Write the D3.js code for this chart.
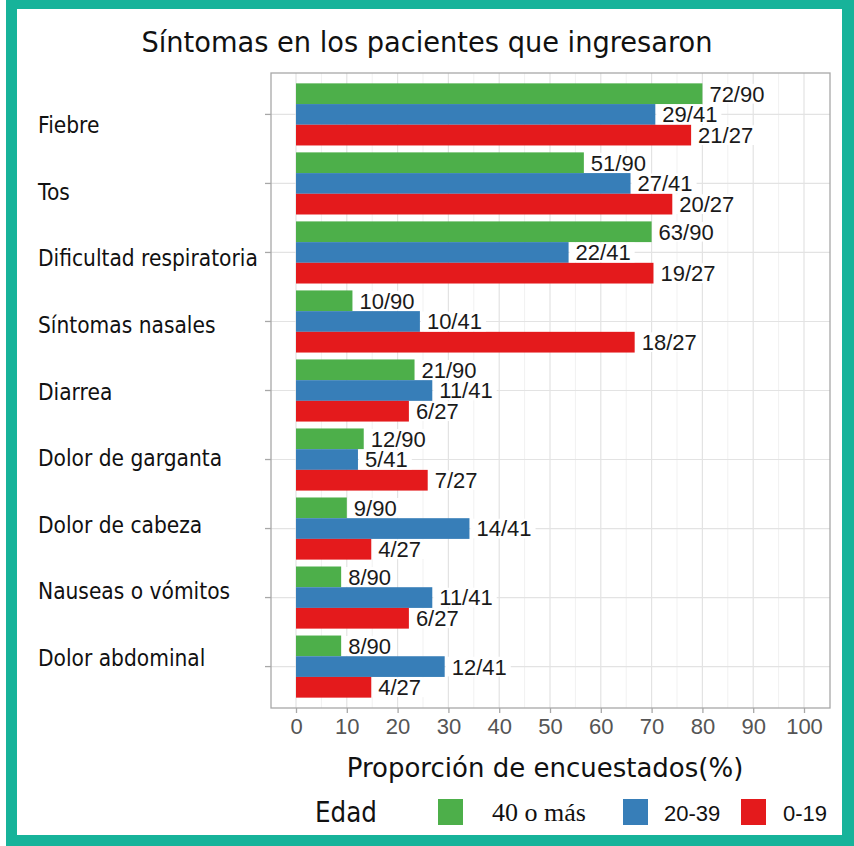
<!DOCTYPE html>
<html>
<head>
<meta charset="utf-8">
<script src="https://cdn.jsdelivr.net/npm/d3@7"></script>
<style>
  body { margin: 0; background: #fff; }
</style>
</head>
<body>
<svg id="chart"></svg>
<script>
const symptoms = ["Fiebre", "Tos", "Dificultad respiratoria", "Síntomas nasales", "Diarrea",
    "Dolor de garganta", "Dolor de cabeza", "Nauseas o vómitos", "Dolor abdominal"];
const groups = ["40 o más", "20-39", "0-19"];
const groupTotals = [90, 41, 27];
const counts40 = [72, 51, 63, 10, 21, 12, 9, 8, 8];
const counts2039 = [29, 27, 22, 10, 11, 5, 14, 11, 12];
const counts019 = [21, 20, 19, 18, 6, 7, 4, 6, 4];
const xTicks = [0, 10, 20, 30, 40, 50, 60, 70, 80, 90, 100];
const groupColors = ["#4DAF4A", "#377EB8", "#E41A1C"];

const width = 854;
const height = 846;

const svg = d3.select("#chart")
    .attr("width", width)
    .attr("height", height);

// teal frame
svg.append("rect").attr("x", 6).attr("y", 0).attr("width", width - 6).attr("height", height).attr("fill", "#17b39a");
svg.append("rect").attr("x", 17).attr("y", 9).attr("width", 825).attr("height", 826).attr("fill", "#fff");

// panel
const panel = {left: 271, right: 830, top: 73, bottom: 708};

const x = d3.scaleLinear().domain([0, 100]).range([296, 804]);
const y = d3.scaleBand().domain(symptoms).range([panel.top, panel.bottom])
    .paddingInner(0.1).paddingOuter(0.15);
const ySub = d3.scaleBand().domain(groups).range([0, y.bandwidth()]);
const labelY = d3.scalePoint().domain(symptoms).range([124.5, 657.5]);
const color = d3.scaleOrdinal().domain(groups).range(groupColors);

const counts = [counts40, counts2039, counts019];
const rows = [];
symptoms.forEach((s, i) => {
    groups.forEach((g, j) => {
        rows.push({
            symptom: s,
            group: g,
            count: counts[j][i],
            total: groupTotals[j],
            pct: counts[j][i] / groupTotals[j] * 100
        });
    });
});

// grid
const minor = d3.range(5, 100, 10);
svg.append("g").selectAll("line")
    .data(minor)
    .enter()
    .append("line")
    .attr("x1", d => x(d)).attr("x2", d => x(d))
    .attr("y1", panel.top).attr("y2", panel.bottom)
    .attr("stroke", "#f1f1f1").attr("stroke-width", 1);

svg.append("g").selectAll("line")
    .data(xTicks)
    .enter()
    .append("line")
    .attr("x1", d => x(d)).attr("x2", d => x(d))
    .attr("y1", panel.top).attr("y2", panel.bottom)
    .attr("stroke", "#e3e3e3").attr("stroke-width", 1.2);

svg.append("g").selectAll("line")
    .data(symptoms)
    .enter()
    .append("line")
    .attr("x1", panel.left).attr("x2", panel.right)
    .attr("y1", d => y(d) + y.bandwidth() / 2).attr("y2", d => y(d) + y.bandwidth() / 2)
    .attr("stroke", "#e3e3e3").attr("stroke-width", 1.2);

// bars
svg.append("g").selectAll("rect")
    .data(rows)
    .enter()
    .append("rect")
    .attr("x", x(0))
    .attr("y", d => y(d.symptom) + ySub(d.group))
    .attr("width", d => x(d.pct) - x(0))
    .attr("height", ySub.bandwidth())
    .attr("fill", d => color(d.group));

// value labels with white box
const labels = svg.append("g").selectAll("g")
    .data(rows)
    .enter()
    .append("g");

labels.append("text")
    .attr("x", d => x(d.pct) + 7)
    .attr("y", d => y(d.symptom) + ySub(d.group) + ySub.bandwidth() / 2)
    .attr("dy", "0.36em")
    .style("font-family", "'Liberation Sans', Arial, sans-serif")
    .style("font-size", "22px")
    .attr("fill", "#1a1a1a")
    .text(d => d.count + "/" + d.total)
    .each(function(d) {
        const bb = this.getBBox();
        d3.select(this.parentNode).insert("rect", "text")
            .attr("x", x(d.pct) + 1)
            .attr("y", y(d.symptom) + ySub(d.group) + 0.5)
            .attr("width", bb.width + 10)
            .attr("height", ySub.bandwidth() - 1)
            .attr("fill", "#fff");
    });

// panel border
svg.append("rect")
    .attr("x", panel.left).attr("y", panel.top)
    .attr("width", panel.right - panel.left).attr("height", panel.bottom - panel.top)
    .attr("fill", "none").attr("stroke", "#a8a8a8").attr("stroke-width", 1.3);

// x axis
const xAxis = svg.append("g")
    .attr("transform", `translate(0,${panel.bottom})`)
    .call(d3.axisBottom(x).tickValues(xTicks).tickSize(5).tickPadding(5));
xAxis.select(".domain").remove();
xAxis.selectAll("line").attr("stroke", "#a8a8a8").attr("stroke-width", 1.3);
xAxis.selectAll("text")
    .style("font-family", "'Liberation Sans', Arial, sans-serif")
    .style("font-size", "22px")
    .attr("fill", "#555");

// y axis ticks only
const yAxis = svg.append("g")
    .attr("transform", `translate(${panel.left},0)`)
    .call(d3.axisLeft(y).tickSize(6).tickFormat(""));
yAxis.select(".domain").remove();
yAxis.selectAll("line").attr("stroke", "#a8a8a8").attr("stroke-width", 1.3);

// category labels (squeezed a little to look like Tahoma)
svg.append("g").selectAll("text")
    .data(symptoms)
    .enter()
    .append("text")
    .attr("transform", d => `translate(38,${labelY(d) + 8.5}) scale(0.88,1)`)
    .style("font-family", "'DejaVu Sans', sans-serif")
    .style("font-size", "23px")
    .attr("fill", "#111")
    .text(d => d);

// title
svg.append("text")
    .attr("transform", "translate(427,52) scale(0.94,1)")
    .attr("text-anchor", "middle")
    .style("font-family", "'DejaVu Sans', sans-serif")
    .style("font-size", "29px")
    .attr("fill", "#111")
    .text("Síntomas en los pacientes que ingresaron");

// x axis title
svg.append("text")
    .attr("x", 545).attr("y", 777)
    .attr("text-anchor", "middle")
    .style("font-family", "'DejaVu Sans', sans-serif")
    .style("font-size", "26px")
    .attr("fill", "#111")
    .text("Proporción de encuestados(%)");

// legend
const legend = svg.append("g");
legend.append("text")
    .attr("transform", "translate(315,822) scale(0.88,1)")
    .style("font-family", "'DejaVu Sans', sans-serif")
    .style("font-size", "28px")
    .attr("fill", "#111")
    .text("Edad");

const keyX = [438, 623, 741];
const keyLabelX = [492, 664, 783];
const keyFonts = ["'Liberation Serif', 'Times New Roman', serif", "'Liberation Sans', Arial, sans-serif", "'Liberation Sans', Arial, sans-serif"];
const keyFontSizes = ["26px", "22px", "22px"];

legend.selectAll("rect")
    .data(groups)
    .enter()
    .append("rect")
    .attr("x", (d, i) => keyX[i])
    .attr("y", 799)
    .attr("width", 25)
    .attr("height", 26)
    .attr("fill", d => color(d));

legend.selectAll("text.key")
    .data(groups)
    .enter()
    .append("text")
    .attr("class", "key")
    .attr("x", (d, i) => keyLabelX[i])
    .attr("y", 821)
    .style("font-family", (d, i) => keyFonts[i])
    .style("font-size", (d, i) => keyFontSizes[i])
    .attr("fill", "#111")
    .text(d => d);
</script>
</body>
</html>
